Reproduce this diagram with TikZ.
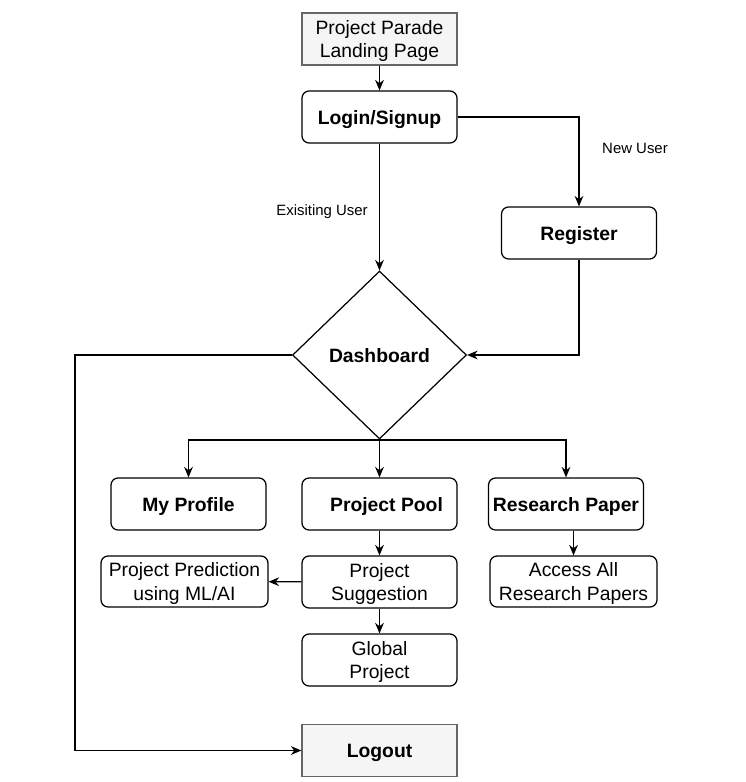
\documentclass[tikz,border=0pt]{standalone}
\usepackage{fontspec}
\setmainfont{Liberation Sans}
\usetikzlibrary{arrows.meta}
\usetikzlibrary{shapes}

\begin{document}
\begin{tikzpicture}[x = 0.02cm, y = -0.02cm, font=\fontsize{11}{13.5}\selectfont]
	\tikzstyle{boxStyle} = [shape = rectangle, rounded corners = 4pt, draw, line width = 0.7pt, minimum width = 3.1cm, minimum height = 1.04cm, align = center, inner sep = 1pt, text depth = 0pt]
	\tikzstyle{wideStyle} = [boxStyle, minimum width = 3.34cm, minimum height = 1.02cm]
	\tikzstyle{greyStyle} = [shape = rectangle, draw = black!60, fill = black!4, line width = 0.7pt, minimum width = 3.1cm, minimum height = 1.04cm, align = center, inner sep = 1pt, text depth = 0pt]
	\tikzstyle{decisionStyle} = [shape = diamond, draw, line width = 0.7pt, minimum width = 3.48cm, minimum height = 3.36cm, inner sep = 0pt, text depth = 0pt, font = \fontsize{11}{13.5}\selectfont\bfseries]
	\tikzstyle{edgeStyle} = [draw, line width = 0.7pt, -{Stealth[length = 6pt, width = 5pt]}]
	\tikzstyle{lineStyle} = [draw, line width = 0.7pt]
	\tikzstyle{labelStyle} = [font = \fontsize{8.5}{10}\selectfont, inner sep = 0pt]
	\useasboundingbox (0,0) rectangle (746,782);
	% nodes
	\node[greyStyle] (landing) at (379.5,39) {Project Parade\\Landing Page};
	\node[boxStyle, font = \fontsize{11}{13.5}\selectfont\bfseries] (login) at (379.5,117) {Login/Signup};
	\node[boxStyle, font = \fontsize{11}{13.5}\selectfont\bfseries] (register) at (579,233) {Register};
	\node[decisionStyle] (dash) at (379.5,355) {Dashboard};
	\node[boxStyle, font = \fontsize{11}{13.5}\selectfont\bfseries] (profile) at (188.5,504) {My Profile};
	\node[boxStyle, font = \fontsize{11}{13.5}\selectfont\bfseries] (pool) at (379.5,504) {\kern8pt Project Pool};
	\node[boxStyle, font = \fontsize{11}{13.5}\selectfont\bfseries] (paper) at (566,504) {Research Paper};
	\node[wideStyle] (predict) at (184.5,581.5) {Project Prediction\\using ML/AI};
	\node[boxStyle] (suggest) at (379.5,582) {Project\\Suggestion};
	\node[wideStyle] (access) at (573.5,581.5) {Access All\\Research Papers};
	\node[boxStyle] (global) at (379.5,660) {Global\\Project};
	\node[greyStyle, font = \fontsize{11}{13.5}\selectfont\bfseries] (logout) at (379.5,750.5) {Logout};
	\node[labelStyle] (newUser) at (635,148) {New User};
	\node[labelStyle] (oldUser) at (322,212) {Exisiting User};
	\coordinate (split) at (379.5,440);
	\coordinate (leftTurn) at (75,355);
	% edges
	\draw[edgeStyle] (landing) -- (login);
	\draw[edgeStyle] (login.east) -| (register.north);
	\draw[edgeStyle] (login) -- (dash);
	\draw[edgeStyle] (register.south) |- (dash.east);
	\draw[lineStyle] (dash.south) -- (split);
	\draw[edgeStyle] (split) -| (profile.north);
	\draw[edgeStyle] (split) -- (pool.north);
	\draw[edgeStyle] (split) -| (paper.north);
	\draw[edgeStyle] (pool) -- (suggest);
	\draw[edgeStyle] (suggest) -- (predict);
	\draw[edgeStyle] (suggest) -- (global);
	\draw[edgeStyle] (access.north |- paper.south) -- (access.north);
	\draw[edgeStyle] (dash.west) -- (leftTurn) |- (logout.west);
\end{tikzpicture}
\end{document}
